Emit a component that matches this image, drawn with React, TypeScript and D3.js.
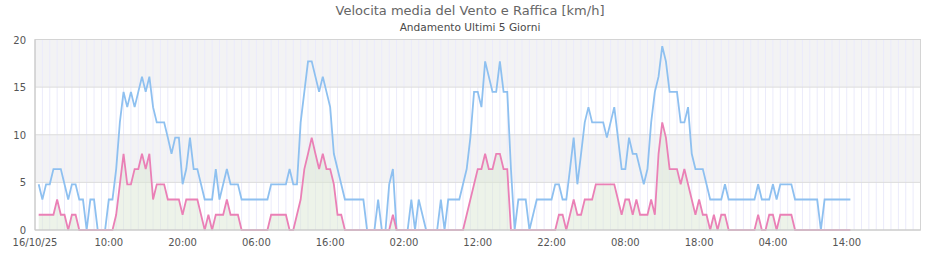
import React from 'react';
import * as d3 from 'd3';

const title = 'Velocita media del Vento e Raffica [km/h]';
const subtitle = 'Andamento Ultimi 5 Giorni';

// samples every 30 minutes, first sample at 00:30 of 16/10/25
const firstHour = 0.5;
const stepHours = 0.5;

const gust: number[] = [
  4.8, 3.2, 4.8, 4.8, 6.4, 6.4, 6.4, 4.8, 3.2, 4.8,
  4.8, 3.2, 3.2, 0, 3.2, 3.2, 0, 0, 0, 3.2,
  3.2, 6.4, 11.3, 14.5, 12.9, 14.5, 12.9, 14.5, 16.1, 14.5,
  16.1, 12.9, 11.3, 11.3, 11.3, 9.7, 8.0, 9.7, 9.7, 4.8,
  6.4, 9.7, 6.4, 6.4, 4.8, 3.2, 3.2, 3.2, 6.4, 3.2,
  4.8, 6.4, 4.8, 4.8, 4.8, 3.2, 3.2, 3.2, 3.2, 3.2,
  3.2, 3.2, 3.2, 4.8, 4.8, 4.8, 4.8, 4.8, 6.4, 4.8,
  4.8, 11.3, 14.5, 17.7, 17.7, 16.1, 14.5, 16.1, 14.5, 12.9,
  8.0, 6.4, 4.8, 3.2, 3.2, 3.2, 3.2, 3.2, 3.2, 0,
  0, 0, 3.2, 0, 0, 4.8, 6.4, 0, 0, 0,
  0, 3.2, 0, 3.2, 1.6, 0, 0, 0, 0, 3.2,
  0, 3.2, 3.2, 3.2, 3.2, 4.8, 6.4, 9.7, 14.5, 14.5,
  12.9, 17.7, 16.1, 14.5, 14.5, 17.7, 14.5, 14.5, 6.4, 0,
  3.2, 3.2, 3.2, 0, 1.6, 3.2, 3.2, 3.2, 3.2, 3.2,
  4.8, 4.8, 3.2, 3.2, 6.4, 9.7, 4.8, 8.0, 11.3, 12.9,
  11.3, 11.3, 11.3, 11.3, 9.7, 11.3, 12.9, 9.7, 6.4, 6.4,
  9.7, 8.0, 8.0, 6.4, 4.8, 6.4, 11.3, 14.5, 16.1, 19.3,
  17.7, 14.5, 14.5, 14.5, 11.3, 11.3, 12.9, 8.0, 6.4, 6.4,
  6.4, 4.8, 3.2, 3.2, 3.2, 3.2, 4.8, 3.2, 3.2, 3.2,
  3.2, 3.2, 3.2, 3.2, 3.2, 4.8, 3.2, 3.2, 3.2, 4.8,
  3.2, 4.8, 4.8, 4.8, 4.8, 3.2, 3.2, 3.2, 3.2, 3.2,
  3.2, 3.2, 0, 3.2, 3.2, 3.2, 3.2, 3.2, 3.2, 3.2,
  3.2,
];

const average: number[] = [
  1.6, 1.6, 1.6, 1.6, 1.6, 3.2, 1.6, 1.6, 0, 1.6,
  1.6, 0, 0, 0, 0, 0, 0, 0, 0, 0,
  0, 1.6, 4.8, 8.0, 4.8, 4.8, 6.4, 6.4, 8.0, 6.4,
  8.0, 3.2, 4.8, 4.8, 4.8, 3.2, 3.2, 3.2, 3.2, 1.6,
  3.2, 3.2, 3.2, 3.2, 1.6, 0, 1.6, 0, 1.6, 1.6,
  1.6, 3.2, 1.6, 1.6, 1.6, 0, 0, 0, 0, 0,
  0, 0, 0, 1.6, 1.6, 1.6, 1.6, 1.6, 0, 0,
  1.6, 3.2, 6.4, 8.0, 9.7, 8.0, 6.4, 8.0, 6.4, 6.4,
  4.8, 1.6, 1.6, 0, 0, 0, 0, 0, 0, 0,
  0, 0, 0, 0, 0, 0, 1.6, 0, 0, 0,
  0, 0, 0, 0, 0, 0, 0, 0, 0, 0,
  0, 0, 0, 0, 0, 0, 1.6, 3.2, 4.8, 6.4,
  6.4, 8.0, 6.4, 6.4, 8.0, 8.0, 6.4, 6.4, 0, 0,
  0, 0, 0, 0, 0, 0, 0, 0, 0, 0,
  0, 1.6, 1.6, 0, 1.6, 3.2, 1.6, 1.6, 3.2, 3.2,
  3.2, 4.8, 4.8, 4.8, 4.8, 4.8, 4.8, 3.2, 1.6, 3.2,
  3.2, 1.6, 3.2, 1.6, 1.6, 1.6, 3.2, 1.6, 8.0, 11.3,
  9.7, 6.4, 6.4, 6.4, 4.8, 6.4, 4.8, 3.2, 1.6, 3.2,
  1.6, 1.6, 0, 1.6, 0, 1.6, 1.6, 0, 0, 0,
  0, 0, 0, 0, 0, 1.6, 0, 0, 1.6, 1.6,
  0, 1.6, 1.6, 1.6, 1.6, 0, 0, 0, 0, 0,
  0, 0, 0, 0, 0, 0, 0, 0, 0, 0,
  0,
];

const yTicks = [0, 5, 10, 15, 20];
const xTickHours = [0, 10, 20, 30, 40, 50, 60, 70, 80, 90, 100, 110];
const xTickLabels = ['16/10/25', '10:00', '20:00', '06:00', '16:00', '02:00', '12:00', '22:00', '08:00', '18:00', '04:00', '14:00'];
const totalHours = 120;

export default function App() {
  const W = 940;
  const H = 260;
  const left = 35, right = 920.5, top = 39.5, bottom = 230;
  const x = d3.scaleLinear().domain([0, totalHours]).range([left, right]);
  const y = d3.scaleLinear().domain([0, 20]).range([bottom, top]);

  const hours = gust.map((_, i) => firstHour + i * stepHours);
  const lineGen = d3.line<number>().x((_, i) => x(hours[i])).y((d) => y(d));
  const areaGen = d3.area<number>().x((_, i) => x(hours[i])).y0(y(0)).y1((d) => y(d));

  const bands = [[15, 20], [5, 10]];
  const vgrid = d3.range(1, totalHours);
  const font = "'DejaVu Sans', sans-serif";

  return (
    <svg width={W} height={H} style={{ position: 'absolute', left: 0, top: 0, background: '#fff' }}>
      <rect x={0} y={0} width={W} height={H} fill="#fff" />
      <text x={470} y={15} textAnchor="middle" fontFamily={font} fontSize={13} fill="#666">{title}</text>
      <text x={470} y={31} textAnchor="middle" fontFamily={font} fontSize={10.6} fill="#4a4a4a">{subtitle}</text>

      {bands.map(([a, b], i) => (
        <rect key={i} x={left} y={y(b)} width={right - left} height={y(a) - y(b)} fill="#f3f3f4" />
      ))}
      {vgrid.map((h) => (
        <line key={h} x1={x(h)} x2={x(h)} y1={top} y2={bottom} stroke="#ebebfb" strokeWidth={1} />
      ))}
      {[5, 10, 15].map((v) => (
        <line key={v} x1={left} x2={right} y1={y(v)} y2={y(v)} stroke="#dcdcdc" strokeWidth={1} />
      ))}

      <path d={areaGen(average) || ''} fill="#dbe7d3" fillOpacity={0.5} />
      <path d={lineGen(gust) || ''} fill="none" stroke="#8ec0f0" strokeWidth={1.8} />
      <path d={lineGen(average) || ''} fill="none" stroke="#ea80b6" strokeWidth={1.8} />

      <rect x={left} y={top} width={right - left} height={bottom - top} fill="none" stroke="#d4d4d4" strokeWidth={1} />
      <line x1={left} x2={left} y1={top} y2={bottom} stroke="#c8c8c8" />
      <line x1={left} x2={right} y1={bottom} y2={bottom} stroke="#c8c8c8" />

      {yTicks.map((v) => (
        <text key={v} x={26} y={y(v) + 4} textAnchor="end" fontFamily={font} fontSize={10} fill="#555">{v}</text>
      ))}
      {xTickHours.map((h, i) => (
        <text key={h} x={x(h)} y={246} textAnchor="middle" fontFamily={font} fontSize={10} fill="#555">{xTickLabels[i]}</text>
      ))}
    </svg>
  );
}
